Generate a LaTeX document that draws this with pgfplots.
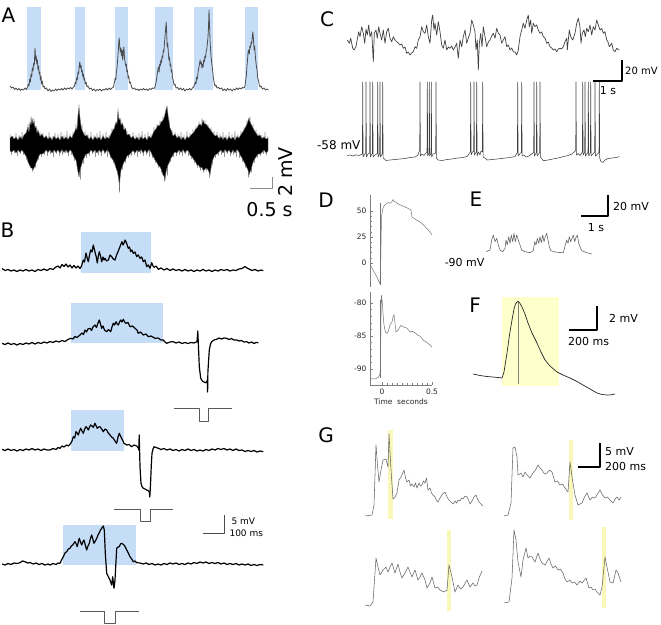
\documentclass[border=0pt]{standalone}
\usepackage{pgfplots}
\pgfplotsset{compat=1.18}
\usepackage{fontspec}
\setmainfont{DejaVu Sans}
\definecolor{stimblue}{RGB}{198,221,248}
\definecolor{paleyel}{RGB}{255,255,204}
\definecolor{gyel}{RGB}{250,248,185}
\newcommand{\fs}[1]{\fontsize{#1}{#1}\selectfont}
\begin{document}
\begin{tikzpicture}
\path[use as bounding box] (0,0) rectangle (661pt,624pt);
\begin{axis}[at={(0pt,0pt)}, anchor=south west, scale only axis, width=661pt, height=624pt,
  xmin=0, xmax=661, ymin=0, ymax=624, y dir=reverse, hide axis, clip=false, no markers,
  every axis plot/.append style={line join=round}]
% ---------- stimulus windows ----------
\addplot[fill=stimblue, draw=none] coordinates {(27.3,6.7)(40.7,6.7)(40.7,90)(27.3,90)} -- cycle;
\addplot[fill=stimblue, draw=none] coordinates {(75.3,6.7)(84.7,6.7)(84.7,90)(75.3,90)} -- cycle;
\addplot[fill=stimblue, draw=none] coordinates {(114.7,6.7)(128,6.7)(128,90)(114.7,90)} -- cycle;
\addplot[fill=stimblue, draw=none] coordinates {(155.3,6.7)(172.7,6.7)(172.7,90)(155.3,90)} -- cycle;
\addplot[fill=stimblue, draw=none] coordinates {(194,6.7)(213.3,6.7)(213.3,90)(194,90)} -- cycle;
\addplot[fill=stimblue, draw=none] coordinates {(244.7,6.7)(258,6.7)(258,90)(244.7,90)} -- cycle;
\addplot[fill=stimblue, draw=none] coordinates {(81,232)(151,232)(151,273)(81,273)} -- cycle;
\addplot[fill=stimblue, draw=none] coordinates {(71,303)(163,303)(163,343)(71,343)} -- cycle;
\addplot[fill=stimblue, draw=none] coordinates {(71,410)(124,410)(124,451)(71,451)} -- cycle;
\addplot[fill=stimblue, draw=none] coordinates {(63,525)(136,525)(136,565)(63,565)} -- cycle;
\addplot[fill=paleyel, draw=none] coordinates {(502,297)(559,297)(559,386)(502,386)} -- cycle;
\addplot[fill=gyel, draw=none] coordinates {(388,430)(393,430)(393,519)(388,519)} -- cycle;
\addplot[fill=gyel, draw=none] coordinates {(569,440)(573,440)(573,520)(569,520)} -- cycle;
\addplot[fill=gyel, draw=none] coordinates {(447,530)(451,530)(451,611)(447,611)} -- cycle;
\addplot[fill=gyel, draw=none] coordinates {(602,527)(606,527)(606,608)(602,608)} -- cycle;
% ---------- A upper trace ----------
\addplot[black!70, line width=0.8pt] coordinates {
(10,86)(11.5,88)(13,87)(14.5,89.5)(16,88)(17.5,90)(19,88.5)(20.5,90.5)(22,89)(23.5,90)(25,88)(26.5,89.5)
(27.5,87)(28.3,84)(29,86)(29.7,79)(30.4,82)(31,74)(31.7,77)(32.3,68)(33,71)(33.7,63)(34.3,65)(35,48)(35.6,60)(36.2,56)(36.8,64)(37.4,60)(38,70)(38.6,66)(39.2,74)(39.8,72)(40.4,80)(41,76)(41.6,84)(42.3,81)(43,87)(44,86)(45,89)
(46.5,88)(48,91)(49.5,89)(51,91.5)(52.5,90)(54,91)(55.5,89)(57,90.5)(58.5,89)(60,90)(61.5,88.5)(63,90)(64.5,88)(66,89.5)(67.5,88)(69,89)(70.5,87.5)(72,89)(73.5,87)
(74.5,86)(75.2,82)(75.9,84)(76.6,78)(77.3,80)(78,72)(78.6,74)(79.2,66)(79.8,62)(80.4,68)(81,65)(81.6,72)(82.2,70)(82.8,77)(83.4,74)(84,80)(84.6,78)(85.2,84)(86,82)(87,87)(88,86)
(89.5,89)(91,88)(92.5,90.5)(94,89)(95.5,91)(97,89.5)(98.5,90.5)(100,89)(101.5,91)(103,89.5)(104.5,90)(106,88.5)(107.5,90)(109,88)(110.5,89.5)(112,88)(113.5,87)
(114.5,82)(115.2,78)(115.8,80)(116.4,72)(117,68)(117.6,60)(118.2,52)(118.8,42)(119.2,38)(119.7,46)(120.3,52)(120.9,48)(121.5,56)(122.1,50)(122.7,60)(123.3,52)(123.9,47)(124.5,58)(125.1,62)(125.7,66)(126.3,64)(126.9,72)(127.5,70)(128.1,78)(128.8,76)(129.5,83)(130.5,82)(131.5,87)
(133,89)(134.5,88)(136,90)(137.5,89)(139,90.5)(140.5,89)(142,90)(143.5,88.5)(145,90)(146.5,89)(148,90.5)(149.5,88.5)(151,89.5)(152.5,88)(154,88.5)
(155,87)(155.8,83)(156.5,80)(157.2,74)(157.9,70)(158.5,67)(159.1,72)(159.7,64)(160.3,66)(160.9,60)(161.5,63)(162.1,56)(162.7,58)(163.3,50)(163.9,52)(164.5,42)(165.1,35)(165.7,28)(166.2,22)(166.7,34)(167.2,47)(167.7,43)(168.3,52)(168.9,60)(169.5,57)(170.1,66)(170.7,64)(171.3,72)(171.9,70)(172.5,78)(173.2,80)(174,85)(175,84)(176,88)
(177.5,87.5)(179,89.5)(180.5,88)(182,90)(183.5,88.5)(185,91)(186.5,89)(188,90)(189.5,88.5)(191,90)(192.5,88)(193.5,87)
(194.5,85)(195.3,82)(196,84)(196.7,77)(197.4,79)(198.1,72)(198.8,68)(199.5,64)(200.1,60)(200.7,64)(201.3,62)(201.9,68)(202.5,64)(203.1,67)(203.7,60)(204.3,62)(204.9,56)(205.5,58)(206.1,52)(206.7,50)(207.3,44)(207.9,38)(208.5,28)(209,10)(209.5,24)(210,40)(210.5,48)(211,56)(211.6,62)(212.2,67)(212.8,72)(213.4,78)(214,82)(215,86)(216,85)(217,88)
(218.5,87.5)(220,89)(221.5,88)(223,90.5)(224.5,89)(226,91)(227.5,88.5)(229,90)(230.5,89)(232,91)(233.5,89)(235,90)(236.5,88)(238,89.5)(239.5,88)(241,89)(242.5,87.5)(244,88)
(245,86)(245.7,80)(246.3,76)(246.9,67)(247.5,60)(248.1,52)(248.7,50)(249.3,54)(249.9,46)(250.5,48)(251.1,42)(251.7,44)(252.3,36)(252.9,32)(253.5,40)(254.1,50)(254.7,46)(255.3,56)(255.9,62)(256.5,67)(257.1,70)(257.7,78)(258.4,80)(259.1,84)(260,87)(261,86)
(262.5,89)(264,88)(265.5,90)(267,89)(268.5,90)};
% ---------- A lower (extracellular) band: grey fringe then black core ----------
\addplot[black!45, line width=0.45pt] coordinates {
(10,134)(11.5,155)(13,136)(14.5,153)(16,133)(17.5,156)(19,135)(20.5,154)(22,132)(23.5,155)(25,134)
(26.5,160)(28,124)(29.5,165)(31,116)(32.5,172)(34,118)(35.5,168)(37,128)(38.5,160)(40,132)
(41.5,157)(43,133)(44.5,155)(46,135)(47.5,156)(49,132)(50.5,154)(52,136)(53.5,157)(55,133)(56.5,154)(58,134)(59.5,156)(61,132)(62.5,155)(64,135)(65.5,153)(67,131)(68.5,156)(70,134)(71.5,155)(73,132)
(74.5,161)(76,124)(77.5,170)(79,104)(80.5,180)(82,124)(83.5,164)(85,131)(86.5,158)
(88,134)(89.5,156)(91,132)(92.5,154)(94,135)(95.5,157)(97,133)(98.5,155)(100,131)(101.5,156)(103,134)(104.5,154)(106,132)(107.5,157)(109,135)
(110.5,158)(112,128)(113.5,163)(115,124)(116.5,171)(118,108)(119.5,193)(121,120)(122.5,170)(124,126)(125.5,163)(127,131)(128.5,158)(130,134)
(131.5,156)(133,132)(134.5,155)(136,135)(137.5,157)(139,133)(140.5,154)(142,131)(143.5,156)(145,134)(146.5,155)(148,132)(149.5,157)(151,134)
(152.5,158)(154,127)(155.5,163)(157,124)(158.5,168)(160,120)(161.5,173)(163,116)(164.5,182)(166,108)(167.5,176)(169,118)(170.5,162)(172,130)(173.5,157)(175,132)
(176.5,156)(178,134)(179.5,155)(181,132)(182.5,156)(184,135)(185.5,154)(187,131)(188.5,156)(190,133)
(191.5,159)(193,129)(194.5,163)(196,126)(197.5,168)(199,121)(200.5,171)(202,118)(203.5,173)(205,120)(206.5,171)(208,124)(209.5,178)(211,127)(212.5,165)(214,131)(215.5,158)
(217,132)(218.5,156)(220,134)(221.5,155)(223,132)(224.5,157)(226,135)(227.5,154)(229,132)(230.5,156)(232,134)(233.5,155)(235,131)(236.5,157)(238,134)
(239.5,158)(241,131)(242.5,162)(244,127)(245.5,168)(247,120)(248.5,178)(250,116)(251.5,173)(253,124)(254.5,163)(256,129)(257.5,158)
(259,133)(260.5,156)(262,135)(263.5,154)(265,132)(266.5,155)(268,136)};
\addplot[fill=black, draw=black!55, line width=0.4pt] coordinates {
(10,138)(12,136)(14,139)(16,137)(18,140)(20,136.5)(22,139)(24,135)(26,133)(27,130)(28,127)(29,132)(30,122)(31,125)(32,118)(33,124)(34,121)(35,128)(36,126)(37,133)(38,130)(40,136)(42,134)(44,138)(46,136)(48,139)(50,137)(52,140)(54,136)(56,139)(58,137)(60,140)(62,136)(64,139)(66,137)(68,139.5)(70,136)(72,138)(73,135)(74.5,132)(76,128)(77,130)(78,115)(79,108)(80,118)(81,126)(82,130)(83.5,133)(85,136)(87,135)(89,139)(91,137)(93,140)(95,136.5)(97,139)(99,137)(101,140)(103,136)(105,139)(107,137)(109,138.5)(110,136)(111.5,133)(113,130)(114.5,128)(116,122)(117,124)(118,112)(119,120)(120,118)(121,125)(122.5,123)(124,130)(125.5,128)(127,135)(129,134)(131,138)(133,136)(135,139.5)(137,137)(139,140)(141,136.5)(143,139)(145,137)(147,140)(149,136)(151,138)(152,136)(153.5,132)(155,130)(156.5,128)(158,125)(159.5,126)(161,122)(162.5,121)(164,118)(165,114)(166,110)(167,106)(168,115)(169,122)(170,128)(171.5,131)(173,136)(175,134)(177,138)(179,136)(181,139.5)(183,137)(185,140)(187,136.5)(189,138)(190,136)(192,134)(194,132)(195.5,129)(197,128)(198.5,125)(200,124)(201.5,126)(203,120)(204.5,124)(206,124)(207.5,126)(209,128)(210.5,130)(212,132)(213.5,134)(215,136)(217,135)(219,138.5)(221,136.5)(223,139.5)(225,137)(227,140)(229,136.5)(231,139)(233,137)(235,140)(237,136.5)(239,138)(240,136)(242,133)(244,130)(245.5,127)(247,124)(248,121)(249,118)(250,122)(251,124)(252.5,127)(254,130)(256,133)(258,136)(260,135)(262,138.5)(264,137)(266,139)(268,138)
(268,151)(266,153)(264,150)(262,152.5)(260,154)(258,154)(256,157)(254,160)(252.5,164)(251,170)(250,172)(249,175)(248,170)(247,168)(245.5,165)(244,162)(242,158)(240,155)(239,152)(237,149.5)(235,153)(233,150)(231,153.5)(229,150)(227,152.5)(225,149.5)(223,153)(221,150)(219,152)(217,154)(215,155)(213.5,158)(212,162)(211,168)(210,175)(209,172)(207.5,169)(206,168)(204.5,170)(203,170)(201.5,167)(200,168)(198.5,165)(197,165)(195.5,162)(194,160)(192,157)(190,155)(189,152)(187,150)(185,153)(183,149.5)(181,152.5)(179,150)(177,153)(175,152)(174,153)(172.5,156)(171,158)(169.5,162)(168,165)(167,168)(166,172)(165,180)(164,176)(163,175)(161.5,170)(160,167)(158,165)(156.5,162)(155,160)(153.5,157)(152,155)(151,152)(149,149.5)(147,153)(145,150)(143,153)(141,149.5)(139,152)(137,150)(135,153)(133,150.5)(131,153)(129,155)(127,156)(125.5,160)(124,162)(122.5,166)(121,170)(120,178)(119.5,190)(119,182)(118,175)(117,170)(116,168)(114.5,163)(113,160)(111.5,158)(110,155)(109,152)(107,150)(105,153)(103,149.5)(101,152.5)(99,150)(97,153)(95,150)(93,152.5)(91,150)(89,153)(87,154)(86,154)(84.5,157)(83,160)(81.5,165)(80,170)(79,177)(78,172)(77,166)(76,160)(74.5,158)(73,155)(72,152)(70,150)(68,153)(66,150)(64,152.5)(62,149.5)(60,153)(58,150)(56,152.5)(54,150)(52,153)(50,150)(48,152.5)(46,150)(44,153)(42,154)(40,154)(39,156)(38,158)(37,161)(36,163)(35,166)(34,168)(33,170)(32,168)(31,168)(30,166)(29,164)(28,162)(27,158)(26,156)(24,153)(22,150)(20,152.5)(18,150)(16,153)(14,150)(12,152)(10,151)} -- cycle;
% A scale bar
\addplot[black!45, line width=0.6pt] coordinates {(250,188.5)(272,188.5)(272,177)};
\node[font=\fs{19}, rotate=90] at (285.5,172) {2 mV};
\node[font=\fs{19}] at (269.5,210) {0.5 s};
% ---------- B traces ----------
\addplot[black, line width=1.2pt] coordinates {
(2,268.5)(5,270.5)(8,269.5)(11,271)(14,270)(17,271.5)(20,270)(23,271)(26,269.5)(29,271)(32,270)(35,271.5)(38,269.5)(41,270.5)(44,269)(47,270.5)(50,268.5)(53,269.5)(56,267)(58,266)(60,268)(62,264.5)(64,266.5)(66,264)(68,267)(70,265)(72,268)(74,265.5)(76,268)(78,266)(80,268.5)(81.5,266)(83.3,260)(84.5,262)(86,253)(87.2,258)(88.3,261.7)(89.5,255)(90.7,250)(92,252)(93.3,245)(94.3,249)(95.3,253.3)(96.3,257)(97.3,263)(98.3,256)(99.3,251.7)(100.5,256)(101.7,261.7)(103,257)(104,260)(105,258.3)(106.5,261)(108.3,260)(110,255)(111.7,256.7)(113.3,259)(115,260)(116.2,256)(117.3,253.3)(118.7,250)(120,246.7)(121,244)(122,241.7)(123,245)(124,243.3)(125,240)(126,241.7)(127.2,245)(128.3,248.3)(129.5,247)(130.7,251.7)(132,250)(133.3,253.3)(135,252)(136.7,256.7)(138.3,255)(140,258.3)(141.7,257)(143.3,261.7)(145,260)(146.7,266.7)(148.3,265)(150,268.3)(151.7,262.7)(153,266)(154,267.3)(156,266)(158.3,269.3)(161,268)(164,270)(167,268.5)(170,270.5)(173,269)(176,270.5)(179,269.5)(182,271)(185,269.5)(188,271)(191,270)(194,271.5)(197,270)(200,271)(203,269.5)(206,271)(209,270)(212,271.5)(215,270)(218,271)(221,269.5)(224,270.5)(227,269.5)(230,271)(233,270)(236,270.5)(239,269)(242,268.5)(245,266.5)(247,268)(249,269)(252,270.5)(255,269.5)(258,271)(261,270)(263.3,270.7)};
\addplot[black, line width=1.2pt] coordinates {
(2,343.3)(5,344.5)(8,343)(11,344.5)(14,343.5)(17,345)(20,343.5)(23,344.5)(26,343)(29,344)(32,342.5)(35,344)(38,342.5)(41,343.5)(44,342)(47,343)(50,341.5)(53,342.5)(56,341)(59,342)(62,340.5)(65,341.5)(68,339.5)(70.7,338.3)(73,339)(75,336.5)(77,337.5)(80,335)(82,333)(83.5,334.5)(85,330)(86.5,332)(88,329)(90,328.3)(91.5,330.5)(93,327)(95,325)(96.5,327.5)(98,323)(99.3,320)(100.5,324)(101.7,328.3)(103,326)(104.5,330)(106.7,331.7)(108.5,329.5)(110.7,331.7)(112,327)(113.3,323.3)(114.7,325)(116,321.7)(117.2,324)(118.3,325)(119.5,322)(120.7,320)(122,322)(123.3,319.3)(124.7,322)(126,323.3)(128,322.5)(130,326.7)(132.5,326)(135,328.3)(137,330)(138.3,333.3)(140.5,332)(143.3,335)(146,334)(148.3,336.7)(151,336)(155,338.3)(158,338)(161,340)(163.3,340)(165,342)(166.7,343.3)(170,342)(173.3,341.7)(176,343)(179,342)(182,343.5)(185,342.5)(188,343.5)(191,342.5)(194,343)(197,341.7)(197.8,331)(198.3,343)(199.3,366.7)(200.7,378.3)(202,380.5)(203.3,381.7)(205,382.5)(206,382.7)(207,381)(207.3,380)(207.6,392)(207.9,372)(208.5,362)(209.3,350)(210.5,344)(211.7,341.7)(214,340)(216.7,339.3)(219,338)(221.5,339)(224,338)(226.7,338.3)(229,339.5)(231.5,338.5)(234,340)(236.7,340)(239,341)(241.5,340.5)(244,342)(246.7,341.7)(249,343)(251.5,342)(254,343.5)(256,342.5)(258.3,342.7)};
\addplot[black, line width=1.2pt] coordinates {
(2,449.3)(5,450.5)(8,449)(11,450.5)(14,449.5)(17,451)(20,449.5)(23,450.5)(26,449)(29,450)(32,448.5)(35,450)(38,449)(41,450.5)(44,449)(47,450)(50,450)(53,448.5)(56,449.5)(58,447.5)(60,448.3)(62,446)(64,447)(66.7,445)(68.5,446)(70.7,443.3)(72,441)(73.3,436.7)(74.7,438)(76,431.7)(77.2,433)(78.3,435)(79.5,431)(80.7,428.3)(82,431)(83.3,433.3)(84.7,429)(86,426.7)(87.2,428)(88.3,430)(89.5,427)(90.7,425)(92,426)(93.3,427.3)(94.2,425)(95,423.3)(96.2,426)(97.3,428.3)(98.7,427)(100,426.7)(101.7,429)(103.3,431.7)(105,429)(106.7,430)(108.3,433)(110,435)(111.7,437)(113.3,438.3)(115,441)(116.7,443.3)(118,437)(119.3,433.3)(120.5,436)(121.7,438.3)(123,441)(124,443.3)(125.3,444)(126.7,445)(129,444.5)(131.7,446.7)(134,445)(136.7,446)(138.3,448)(138.8,450)(139.2,435)(140,466.7)(141,483.3)(142,486.5)(143.3,488.3)(145,489)(146.7,490)(148,490.5)(149.3,491.7)(149.8,497)(150.3,488)(150.7,480)(151.3,465)(152,453.3)(153,449)(154,446.7)(156,447.5)(158.3,448.3)(161,449.5)(164,448.5)(166.7,450)(170,449)(173,450.5)(176,449.5)(179,451)(182,449.5)(185,450.5)(188,449)(191,450.5)(194,449.5)(197,451)(200,450)(203,451)(206,449.5)(209,450.5)(212,449)(215,450)(218,448.5)(221,449.5)(224,448.5)(227,450)(230,449)(233,450.5)(236,449)(239,450.5)(242,450)(245,451.5)(248,450.5)(251,451.5)(254,450.5)(257,452)(260,451)(263.3,451.7)};
\addplot[black, line width=1.2pt] coordinates {
(2,564)(5,565)(8,563.5)(11,564.5)(14,563)(17,563.5)(20,562.7)(22.5,561)(25,561.7)(27.5,563)(30,562.5)(33.3,564)(36,563)(39,564.5)(42,563.5)(45,565)(48,564)(50,565)(53,563.5)(56,564.5)(58,563)(60,563.3)(61.5,560)(63.3,556.7)(65,553)(66.7,551.7)(68.3,549)(70,548.3)(71.3,546)(72.7,545)(74,543)(75,541.7)(76.2,544)(77.3,546.7)(78.3,542)(79.3,538.3)(80.5,542)(81.7,545)(82.8,542)(84,540)(85.3,545)(86.7,550)(88,546)(89.3,543.3)(90.5,538)(91.7,535)(92.8,539)(94,543.3)(95.3,541)(96.7,538.3)(98,535)(99.3,532.7)(100.5,530)(101.7,528.3)(102.5,527)(103.3,526)(104.3,530)(105.3,553.3)(106.7,573.3)(108.3,576.7)(110,580)(111,583)(111.7,585)(112.7,576.7)(113.5,584)(114,588.3)(115,580)(115.7,566.7)(116.7,548.3)(118,547)(119.3,546.7)(120.5,544)(121.7,543.3)(122.8,544)(124,545)(125.3,547)(126.7,550)(128.3,553)(130,556.7)(131.7,559)(133.3,561.7)(135,561)(136.7,562.7)(140,563)(143.3,564)(146,563)(149,564.5)(152,563.5)(155,565)(158,564)(161,565)(164,563.5)(167,564.5)(170,563)(173,564)(176,563)(179,564.5)(182,563.5)(185,564.5)(188,563)(191,564)(194,562.5)(197,563.5)(200,562)(203,563)(206,562)(209,563.5)(212,562.5)(215,563.5)(218,562.5)(221,564)(224,563)(227,564.5)(230,563.5)(233,564.5)(236,563.5)(239,565)(242,564)(245,565)(248,564)(251,565.5)(254,564.5)(257,565.5)(260,564.5)(263.3,565)};
% current-step icons
\addplot[black!65, line width=0.7pt] coordinates {(174,408)(199,408)(199,421)(208,421)(208,408)(232,408)};
\addplot[black!65, line width=0.7pt] coordinates {(114,509)(140,509)(140,521)(150,521)(150,509)(173,509)};
\addplot[black!65, line width=0.7pt] coordinates {(80,611)(104,611)(104,623)(115,623)(115,611)(139,611)};
% B scale bar
\addplot[black!70, line width=0.6pt] coordinates {(203,533)(224,533)(224,515)};
\node[font=\fs{9}, anchor=west] at (228,521) {5 mV};
\node[font=\fs{9}, anchor=west] at (226,533) {100 ms};
% ---------- C traces ----------
\addplot[black!75, line width=0.7pt] coordinates {
(347.3,40)(349.3,43.3)(350.7,38.3)(352.7,48.3)(354,50)(356,46.7)(357.3,39.3)(358.7,31.7)(360,36.7)(361.7,26.7)(363.3,33.3)(364.7,43.3)(366,29.3)(367.3,35)(368.7,25)(370,36.7)(371.7,31.7)(373.3,61.7)(374.3,33.3)(376,30)(377.3,38.3)(378.7,26.7)(380,33.3)(381.7,40)(383.3,30)(385,43.3)(386.7,31.7)(388.3,28.3)(390,38.3)(391.7,41.7)(393.3,36.7)(395,40)(396.7,41.7)(398.3,43)(400,45)(401.7,44)(403.3,48.3)(405,47)(406.7,53.3)(408.3,52)(410,55)(411.7,53)(413.3,51.7)(415,46.7)(416.7,48.3)(418.3,40)(420,36.7)(421.7,26.7)(423.3,31.7)(425,33.3)(426.7,25)(428.3,36.7)(430,43.3)(431.7,20)(432.7,15)(434,30)(435,23.3)(436.7,35)(438.3,21.7)(440,31.7)(441.7,45)(443.3,48.3)(445,40)(446.7,50)(448.3,47)(450,48.3)(451.7,46)(453.3,50)(455,47)(456.7,43.3)(458.3,58.3)(460,40)(461.7,46.7)(463.3,36.7)(465,30)(466.7,43.3)(468.3,38)(470,33.3)(471.7,20)(473.3,25)(475,31.7)(476,50)(477.3,40)(478.3,70)(479.3,43.3)(480.7,33.3)(482,46.7)(483.3,26.7)(485,36.7)(486.7,46.7)(488.3,42)(490,40)(491.7,36)(493.3,33.3)(495,38.3)(496.7,28.3)(498.3,33.3)(500,35)(501.7,43.3)(503.3,40)(505,36.7)(506.7,46.7)(508.3,45)(510,50)(511.7,48)(513.3,51.7)(515,52)(516.7,55)(518.3,50)(520,36.7)(521.7,30)(523.3,23.3)(525,28.3)(526.7,20)(528.3,15)(529.3,26.7)(530.7,20)(531.7,33.3)(533.3,23.3)(535,26.7)(536.7,25)(538.3,30)(540,33.3)(541.7,32)(543.3,36.7)(545,38)(546.7,43.3)(548.3,42)(550,46.7)(551.7,48)(553.3,50)(555,49)(556.7,51.7)(558.3,49)(560,48.3)(561.7,49)(563.3,46.7)(565,41.7)(566.7,38.3)(567.3,50)(569.3,30)(570.7,36.7)(572.7,40)(575,33.3)(576.7,23.3)(578.3,18.3)(580,26.7)(581,43.3)(582.3,33.3)(584,30)(585.3,36.7)(586.7,28.3)(588.3,31.7)(590,25)(591.7,35)(593.3,26.7)(595,30)(596.7,20)(598.3,25)(600,30)(601.7,28.3)(603.3,33.3)(605,31.7)(606.7,40)(608,42)(609.3,46.7)(611.7,43.3)(613.3,50)(615,51.7)(616.7,48.3)(619.3,50)};
\addplot[black!75, line width=0.55pt] coordinates {
(347,155.5)(350,155)(353,156)(356,154.8)(359,155.5)(362.4,154)(362.7,82)(363.1,157)(364.5,154.5)(365.7,153.5)(366,82)(366.4,157)(368,154)(369.7,153)(370,82)(370.4,157)(371.5,154.5)(372.4,153.5)(372.7,82)(373.1,157)(375,155)(376.5,154)(377.4,153.5)(377.7,82)(378.1,157)(379.7,153.5)(380,82)(380.4,157)(381.5,155)(382.4,153.5)(382.7,82)(383.1,158)(384.5,159)(386,160.5)(390,160)(395,159.5)(400,159)(405,158.5)(410,157.5)(415,157)(418,155)(419,152)(419.7,150)(420,82)(420.4,156)(422,154)(424,155.5)(426,153)(427,152.5)(427.3,82)(427.7,156)(429,153)(429.3,82)(429.7,156)(431,153)(431.3,82)(431.7,157)(433,154)(435,153.5)(435.7,152.5)(436,82)(436.4,158)(438,160)(442,160.5)(447,159.5)(452,159)(458,158)(463,157.5)(467,156.5)(469,154)(470.4,151.5)(470.7,82)(471.1,155)(472.5,152)(473.7,151.5)(474,82)(474.4,155)(476.4,152)(476.7,82)(477.1,156)(478.5,152)(480,155)(481,151)(482.4,152)(482.7,82)(483.1,157)(485,158)(487,160)(492,159.5)(497,159)(503,158.3)(510,157.5)(515,156.5)(517.4,152.5)(517.7,82)(518.1,156)(520,153.5)(521.4,152.5)(521.7,82)(522.1,156)(524,155)(526,157)(529,156)(531,154.5)(533.7,152.5)(534,82)(534.4,156)(536.4,152.5)(536.7,82)(537.1,156)(539.7,152.5)(540,82)(540.4,157)(542,159)(543.3,160.7)(548,160)(553,159)(558,158)(563,156.7)(568,155.5)(572,154)(575.7,150.5)(576,82)(576.4,155)(578,153.5)(580,155.5)(582.4,152)(582.7,82)(583.1,155)(584.7,152.5)(585,82)(585.4,156)(588,152.5)(588.3,82)(588.7,156)(590.4,152.5)(590.7,82)(591.1,156)(593,154)(594.7,152)(595,82)(595.4,156)(597,154.5)(599,152.5)(599.3,82)(599.7,158)(601,161.5)(603,162.5)(605,160)(608,158.5)(612,158)(616,157.5)(619.3,156.7)};
\addplot[black, line width=2.8pt] coordinates {(593,81)(622,81)(622,60)};
\node[font=\fs{10}, anchor=west, inner sep=1pt] at (624,71) {20 mV};
\node[font=\fs{11}] at (608,91) {1 s};
\node[font=\fs{12}, anchor=east] at (364,145) {-58 mV};
% ---------- E ----------
\addplot[black!60, line width=0.6pt] coordinates {
(486,251.7)(490,250)(491.7,240)(493.3,235)(495,241.7)(496.7,238.3)(498.3,245)(500,250)(502.7,251.7)(505,248.3)(506,240)(507.3,245)(508.7,236.7)(510,243.3)(511.3,235)(512.7,241.7)(514,233.3)(515.3,241.7)(516.7,235)(518.3,240)(520,245)(521.7,250)(525,251.7)(530,252.7)(533.3,250.7)(534.7,241.7)(536,245)(537.3,238.3)(538.7,243.3)(540,236.7)(541.3,242.7)(542.7,235)(544,241.7)(545.3,236.7)(546.7,233.3)(548,240)(549.3,246.7)(550.7,250.7)(556.7,252.3)(563.3,252.7)(565.3,245)(566.7,240)(568,243.3)(569.3,236.7)(570.7,241.7)(572,238.3)(573.3,235)(574.7,241.7)(576,237.3)(577.3,235)(578.7,243.3)(580,246.7)(581.7,250.7)(586.7,252.7)(591.7,254)};
\addplot[black, line width=2.8pt] coordinates {(581,216)(608,216)(608,195)};
\node[font=\fs{11}, anchor=west, inner sep=1pt] at (612,206) {20 mV};
\node[font=\fs{11}] at (596,228) {1 s};
\node[font=\fs{11}, anchor=east] at (488,262) {-90 mV};
% ---------- F ----------
\addplot[black!50, line width=0.5pt] coordinates {(518,302)(518,384)};
\addplot[black!85, line width=0.7pt] coordinates {
(473,374)(480,375.5)(487,376.5)(493,377)(498,377.5)(502,378)(504,372)(507,353)(509.5,335)(512,320)(514,309)(515.5,304)(517,302)(518,301.5)(519.5,302.5)(522,307)(525,314)(528,323)(532,333)(537,343)(541,352)(545,360)(550,366)(557,372)(563,375)(570,378)(577,381.5)(583,385)(590,389)(597,393)(602,394.5)(607,395)(611,394.8)(615,394)};
\addplot[black, line width=2.8pt] coordinates {(569,330)(597,330)(597,306)};
\node[font=\fs{11}, anchor=west, inner sep=1pt] at (608,318) {2 mV};
\node[font=\fs{11}, anchor=west, inner sep=1pt] at (567,341) {200 ms};
% ---------- G ----------
\addplot[black!60, line width=0.55pt] coordinates {
(365,516)(372,515)(374,505)(376,445)(377.5,465)(379,482)(381,470)(383,460)(386,459)(388,467)(389,434)(391,470)(393,499)(395,497)(397,493)(399,480)(401,477)(404,470)(405.5,478)(407,482)(409,480)(410.5,486)(412,484)(414,487)(415.5,483)(417,488)(419,483)(420.5,486)(422,485)(423.5,481)(425,483)(426.5,478)(428,490)(430,488)(431.5,493)(433,495)(435,497)(436.5,500)(438,502)(440,498)(442.5,494)(445,492)(447,497)(449,500)(451,502)(453,504)(455,501)(456.5,503)(458,500)(460,501)(461.5,498)(463,499)(465,496)(467,497)(468.5,500)(470,504)(472,501)(474,497)(476,495)(477.5,499)(479,502)(481,504)(483,506)};
\addplot[black!60, line width=0.55pt] coordinates {
(504,516)(508,515)(511,503)(513,448)(515,447)(517,457)(518,475)(521,473)(523,477)(525,472)(527,475)(530,478)(533,473)(535.5,470)(538,465)(540,468)(542,470)(544.5,474)(547,473)(549.5,470)(552,472)(555,482)(557.5,481)(560,485)(562.5,484)(565,488)(568,492)(570,462)(572,477)(575,495)(578,505)(582,503)(584.5,497)(587,493)(590,500)(592.5,497)(595,498)(597.5,494)(600,490)(602.5,495)(605,498)(607.5,497)(610,500)(613,503)(615,499)(617,497)(619,500)(621,497)};
\addplot[black!60, line width=0.55pt] coordinates {
(365,605)(370,606)(373,602)(376,558)(378,567)(380,575)(383,570)(386,567)(388,572)(390,567)(392,563)(395,573)(398,564)(400,572)(402,578)(405,573)(408,567)(410,572)(412,577)(415,570)(418,580)(420,577)(422,573)(425,580)(427,588)(430,583)(432,577)(435,588)(437.5,587)(440,590)(444,592)(447,590)(449,565)(452,577)(455,592)(458,585)(460.5,589)(463,587)(467,580)(470,587)(473,583)(475,586)(477,585)(479,578)(482,571)};
\addplot[black!60, line width=0.55pt] coordinates {
(504,603)(509,602)(512,578)(514,530)(516,540)(518,562)(521,577)(523,560)(526,548)(528,558)(530,556)(532,557)(535,562)(538,553)(540,559)(542,563)(545,565)(549,558)(551,564)(553,568)(555.5,566)(558,570)(560.5,569)(563,573)(565,579)(567,582)(570,580)(572,583)(574.5,582)(577,585)(580,581)(582,583)(586,578)(589,588)(591,587)(593,590)(595,589)(597,592)(600,595)(602,587)(605,557)(607,567)(610,582)(613,583)(616,570)(618,573)(621,582)};
\addplot[black, line width=2.8pt] coordinates {(578,467)(600,467)(600,443)};
\node[font=\fs{11}, anchor=west, inner sep=1pt] at (604,452) {5 mV};
\node[font=\fs{11}, anchor=west, inner sep=1pt] at (604,466) {200 ms};
% ---------- panel letters ----------
\node[font=\fs{20}] at (8.5,15.5) {A};
\node[font=\fs{20}] at (7.5,230) {B};
\node[font=\fs{20}] at (327,19) {C};
\node[font=\fs{20}] at (326,200) {D};
\node[font=\fs{20}] at (476,199.5) {E};
\node[font=\fs{20}] at (475,305) {F};
\node[font=\fs{20}] at (326,435) {G};
\end{axis}
% ---------- D upper ----------
\begin{axis}[at={(370pt,337pt)}, anchor=south west, scale only axis, width=62pt, height=92pt,
  xmin=-0.12, xmax=0.5, ymin=-23, ymax=65.4, axis x line=none, axis y line*=left,
  ytick={0,25,50}, minor y tick num=4, major tick length=3pt, minor tick length=1.8pt,
  axis line style={black!50, line width=0.5pt}, every tick/.style={black!50, line width=0.4pt},
  yticklabel style={font=\fs{7.5}, text=black!85}, /pgf/number format/assume math mode=true,
  clip=false, no markers]
\addplot[black!55, line width=0.5pt] coordinates {(-0.013,-21)(-0.013,58)};
\addplot[black!55, line width=0.5pt] coordinates {
(-0.12,-1.9)(-0.10,-4.5)(-0.09,-6.7)(-0.07,-10)(-0.05,-13.5)(-0.03,-18)(-0.02,-20)(-0.012,5)(-0.008,30)(-0.004,45)(0.005,51)(0.015,54)(0.03,56)(0.045,57)(0.06,58)(0.08,57.5)(0.10,59)(0.11,61)(0.12,59.5)(0.13,59)(0.145,58)(0.16,57)(0.18,56)(0.2,55)(0.22,54.5)(0.25,53)(0.27,52)(0.29,51)(0.3,44)(0.32,43)(0.35,41)(0.37,40)(0.4,38)(0.42,36)(0.45,33)(0.47,31)(0.48,30)(0.5,27)};
\end{axis}
% ---------- D lower ----------
\begin{axis}[at={(370pt,239pt)}, anchor=south west, scale only axis, width=62pt, height=93pt,
  xmin=-0.12, xmax=0.5, ymin=-92.42, ymax=-78.33, axis x line*=bottom, axis y line*=left,
  xtick={0,0.5}, minor x tick num=9, ytick={-90,-85,-80}, minor y tick num=4,
  major tick length=3pt, minor tick length=1.8pt,
  axis line style={black!50, line width=0.5pt}, every tick/.style={black!50, line width=0.4pt},
  ticklabel style={font=\fs{7.5}, text=black!85}, /pgf/number format/assume math mode=true,
  xlabel={Time\ \ seconds}, xlabel style={font=\fs{7.5}, text=black!85, yshift=2pt},
  clip=false, no markers]
\addplot[black!55, line width=0.5pt] coordinates {(-0.013,-91.3)(-0.013,-79.5)};
\addplot[black!55, line width=0.5pt] coordinates {
(-0.12,-91.4)(-0.1,-91.5)(-0.07,-91.5)(-0.04,-91.3)(-0.025,-91)(-0.018,-90.5)(-0.014,-87)(-0.01,-82)(-0.006,-78.8)(0.0,-79.5)(0.005,-80.3)(0.012,-82)(0.02,-83.3)(0.03,-84.2)(0.04,-84.5)(0.05,-84.6)(0.06,-84.4)(0.07,-83.9)(0.08,-83.3)(0.09,-83.1)(0.10,-82.9)(0.11,-82.1)(0.12,-81.8)(0.13,-83)(0.14,-84.4)(0.15,-84.3)(0.16,-84.1)(0.18,-83.6)(0.19,-83.4)(0.21,-83.6)(0.23,-83.7)(0.25,-83.8)(0.28,-84.4)(0.30,-84.3)(0.33,-84.5)(0.36,-84.9)(0.38,-85)(0.41,-85.6)(0.44,-85.9)(0.46,-86.1)(0.48,-86.4)(0.5,-86.7)};
\end{axis}
\end{tikzpicture}
\end{document}
